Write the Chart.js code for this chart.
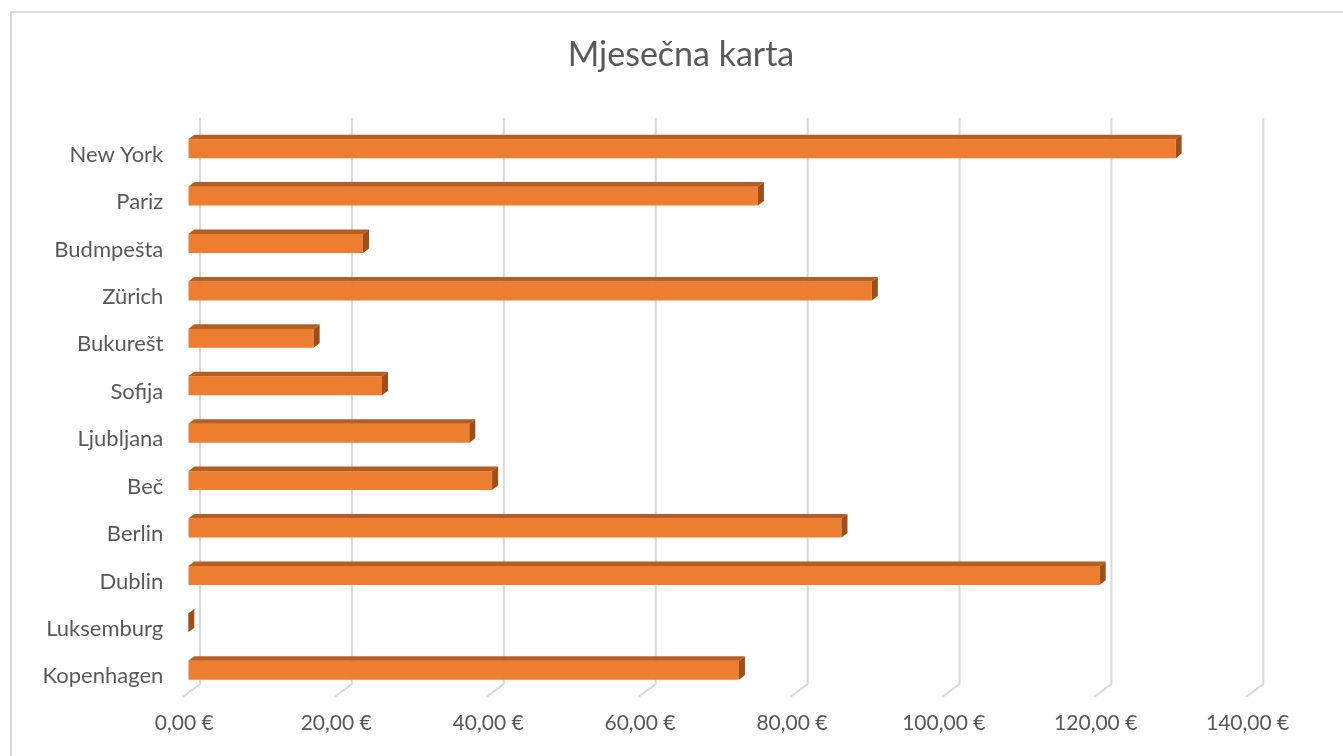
<!DOCTYPE html>
<html>
<head>
<meta charset="utf-8">
<script src="https://cdn.jsdelivr.net/npm/chart.js@4.4.1/dist/chart.umd.min.js"></script>
<style>
  html, body { margin: 0; padding: 0; background: #ffffff; overflow: hidden; width: 1343px; height: 756px; }
  #frame { position: absolute; left: 10px; top: 11px; width: 1400px; height: 800px; border: 2px solid #d9d9d9; box-sizing: border-box; }
  #wrap { position: absolute; left: 10px; top: 11px; width: 1342px; height: 750px; }
  canvas { display: block; }
</style>
</head>
<body>
<div id="frame"></div>
<div id="wrap"><canvas id="c" width="1342" height="750"></canvas></div>
<script>
const titleText = 'Mjesečna karta';
const categories = ['New York', 'Pariz', 'Budmpešta', 'Zürich', 'Bukurešt', 'Sofija', 'Ljubljana', 'Beč', 'Berlin', 'Dublin', 'Luksemburg', 'Kopenhagen'];
const values = [130, 75, 23, 90, 16.5, 25.5, 37, 40, 86, 120, 0, 72.5];
const axisMin = 0;
const axisMax = 140;
const axisStep = 20;

const FRONT = '#ED7D31';
const TOP = '#B85D21';
const SIDE = '#9F4E19';
const GRID = '#d9d9d9';
const TEXT = '#595959';
const FONT = 'Lato, "Open Sans", sans-serif';

const bar3d = {
  id: 'bar3d',
  beforeDatasetsDraw(chart) {
    const ctx = chart.ctx;
    const xs = chart.scales.x;
    const area = chart.chartArea;
    ctx.save();
    ctx.strokeStyle = GRID;
    ctx.lineWidth = 2;
    xs.ticks.forEach(t => {
      const px = xs.getPixelForValue(t.value) + 11.7;
      ctx.beginPath();
      ctx.moveTo(px, area.top - 7);
      ctx.lineTo(px, area.bottom - 10);
      ctx.lineTo(px - 17.3, area.bottom + 3);
      ctx.stroke();
    });
    ctx.restore();
  },
  afterDatasetsDraw(chart) {
    const ctx = chart.ctx;
    const meta = chart.getDatasetMeta(0);
    const dx = 6, dy = -4.6;
    ctx.save();
    meta.data.forEach(el => {
      const p = el.getProps(['x', 'y', 'base', 'height'], true);
      const top = p.y - p.height / 2;
      const bot = p.y + p.height / 2;
      const x0 = p.base, x1 = p.x;
      if (x1 > x0) {
        ctx.fillStyle = TOP;
        ctx.beginPath();
        ctx.moveTo(x0, top);
        ctx.lineTo(x0 + dx, top + dy);
        ctx.lineTo(x1 + dx, top + dy);
        ctx.lineTo(x1, top);
        ctx.closePath();
        ctx.fill();
      }
      ctx.fillStyle = SIDE;
      ctx.beginPath();
      ctx.moveTo(x1, top);
      ctx.lineTo(x1 + dx, top + dy);
      ctx.lineTo(x1 + dx, bot + dy);
      ctx.lineTo(x1, bot);
      ctx.closePath();
      ctx.fill();
    });
    ctx.restore();
  }
};

new Chart(document.getElementById('c'), {
  type: 'bar',
  data: {
    labels: categories,
    datasets: [{
      data: values,
      backgroundColor: FRONT,
      borderWidth: 0,
      barPercentage: 0.4,
      categoryPercentage: 1.0
    }]
  },
  options: {
    indexAxis: 'y',
    responsive: false,
    animation: false,
    events: [],
    layout: { padding: { left: 0, right: 0, top: 0, bottom: 0 } },
    plugins: {
      legend: { display: false },
      tooltip: { enabled: false },
      title: {
        display: true,
        text: titleText,
        color: TEXT,
        font: { family: FONT, size: 34, weight: 'normal', lineHeight: 1.2 },
        padding: { top: 23.6, bottom: 49.6 }
      }
    },
    scales: {
      x: {
        min: axisMin,
        max: axisMax,
        grid: { display: false },
        border: { display: false },
        ticks: {
          stepSize: axisStep,
          color: TEXT,
          padding: 9,
          labelOffset: -4,
          font: { family: FONT, size: 21 },
          callback: v => v.toFixed(2).replace('.', ',') + '\u00a0€'
        },
        afterFit(scale) { scale.height = 67; }
      },
      y: {
        grid: { display: false },
        border: { display: false },
        ticks: {
          color: TEXT,
          padding: 17,
          labelOffset: 6,
          font: { family: FONT, size: 22 }
        },
        afterFit(scale) { scale.width = 178.3; }
      },
      yRight: {
        type: 'category',
        position: 'right',
        display: true,
        grid: { display: false },
        border: { display: false },
        ticks: { display: false },
        afterFit(scale) { scale.width = 100.4; }
      }
    }
  },
  plugins: [bar3d]
});
</script>
</body>
</html>
